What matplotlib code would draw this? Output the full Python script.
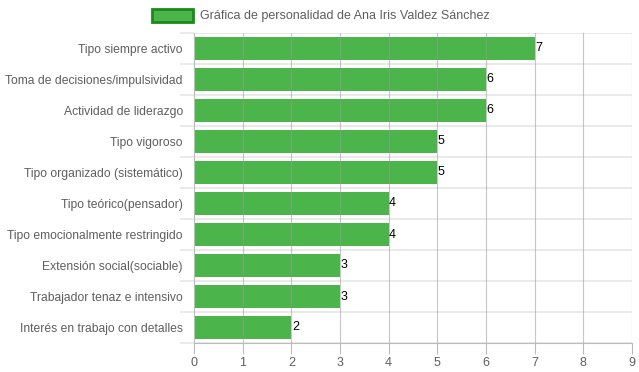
import matplotlib.pyplot as plt
from matplotlib.patches import Rectangle

# Datos de la gráfica
categorias = ['Tipo siempre activo', 'Toma de decisiones/impulsividad', 'Actividad de liderazgo',
              'Tipo vigoroso', 'Tipo organizado (sistemático)', 'Tipo teórico(pensador)',
              'Tipo emocionalmente restringido', 'Extensión social(sociable)',
              'Trabajador tenaz e intensivo', 'Interés en trabajo con detalles']
valores = [7, 6, 6, 5, 5, 4, 4, 3, 3, 2]
etiquetas_x = list(range(0, 10))
titulo_leyenda = 'Gráfica de personalidad de Ana Iris Valdez Sánchez'

plt.rcParams['font.family'] = ['Liberation Sans', 'DejaVu Sans']

fig = plt.figure(figsize=(6.39, 3.72), dpi=100)
ax = fig.add_axes([194 / 639, 1 - 343 / 372, 438 / 639, 310 / 372])

y = list(range(len(categorias)))
ax.barh(y, valores, height=0.74, color='#4bb44b', zorder=1)
for yi, v in zip(y, valores):
    ax.text(v + 0.01, yi, str(v), va='center', ha='left', fontsize=9, color='black', zorder=3)

ax.set_xlim(0, 9)
ax.set_ylim(len(categorias) - 0.5, -0.5)
ax.set_xticks(etiquetas_x)
ax.set_yticks(y)
ax.set_yticklabels(categorias)

# rejilla vertical y separadores horizontales
for xv in etiquetas_x[1:]:
    ax.axvline(xv, color='#9a9a9a', lw=0.8, zorder=2, alpha=0.55)
ax.set_yticks([i + 0.5 for i in range(-1, len(categorias))], minor=True)
ax.grid(True, axis='y', which='minor', color='#e6e6e6', lw=1.2, zorder=0)
ax.tick_params(axis='y', which='minor', length=10, color='#e6e6e6', width=1.2)
ax.tick_params(axis='y', which='major', length=0, pad=8, labelsize=8.7, labelcolor='#5f5f5f')
ax.tick_params(axis='x', length=8, color='#bbbbbb', width=0.8, pad=2, labelsize=9, labelcolor='#5f5f5f')

for s in ['top', 'right', 'left']:
    ax.spines[s].set_visible(False)
ax.spines['bottom'].set_color('#bbbbbb')
ax.spines['bottom'].set_linewidth(0.8)
ax.axvline(0, color='#bbbbbb', lw=0.8, zorder=2)

# leyenda estilo Chart.js
fig.patches.append(Rectangle((152 / 639, 1 - 22 / 372), 41 / 639, 13 / 372,
                             transform=fig.transFigure, facecolor='#4bb44b',
                             edgecolor='#1a8a1a', lw=2))
fig.text(200 / 639, 1 - 16 / 372, titulo_leyenda, fontsize=9, color='#5f5f5f', va='center', ha='left')

plt.savefig('out.png', dpi=100)
